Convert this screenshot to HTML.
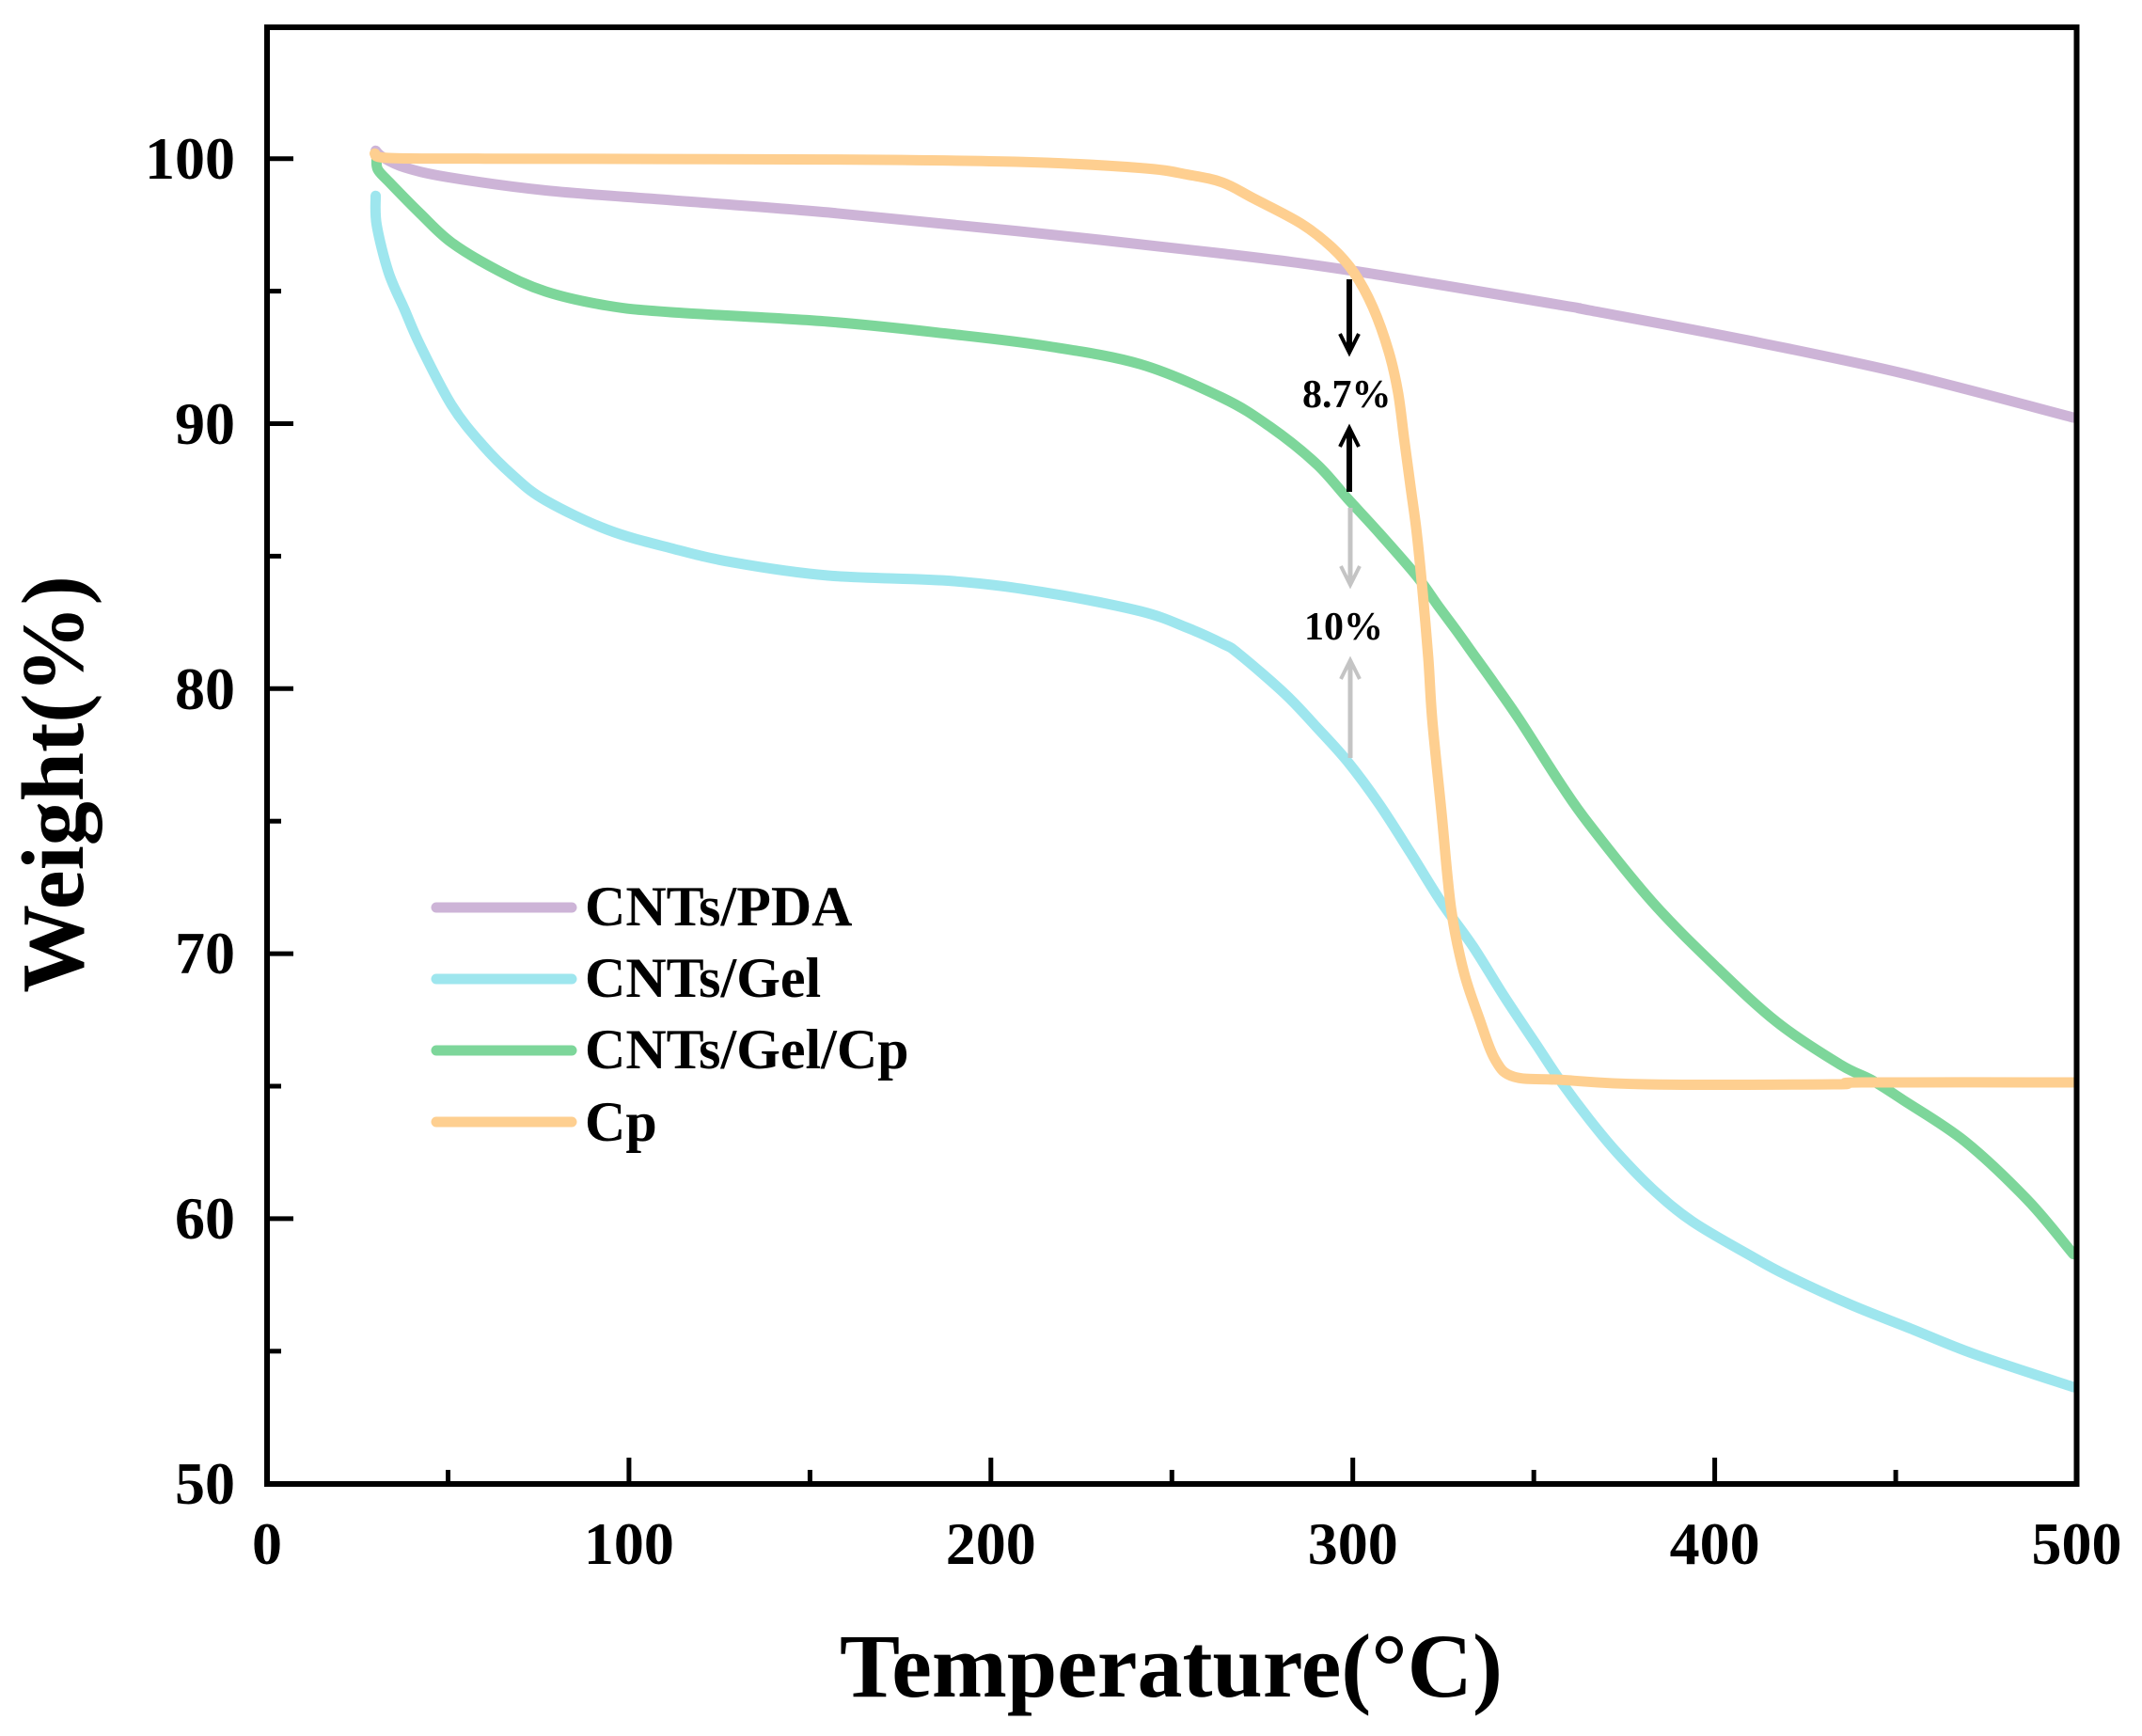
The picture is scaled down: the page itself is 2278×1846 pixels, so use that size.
<!DOCTYPE html>
<html>
<head>
<meta charset="utf-8">
<style>
html,body{margin:0;padding:0;background:#fff;}
svg{display:block;}
text{font-family:"Liberation Serif","Times New Roman",serif;font-weight:bold;fill:#000;}
</style>
</head>
<body>
<svg id="chart" width="2278" height="1846" viewBox="0 0 2278 1846" xmlns="http://www.w3.org/2000/svg">
<rect x="0" y="0" width="2278" height="1846" fill="#fff"/>

<!-- series -->
<g fill="none" stroke-width="11" stroke-linejoin="round" stroke-linecap="round">
<!-- CNTs/PDA -->
<polyline class="s" stroke="#cdb4d7" points="399.5,160.2 407.2,167.3 430.3,178 476.5,188.4 580.4,202.5 713.6,212.9 880.6,225.9 1080.7,245.6 1300.1,269.6 1438.7,287.9 1660.4,324.5 1690.4,330 1857.5,361.7 2023.7,397 2205,444"/>
<!-- CNTs/Gel -->
<polyline class="s" stroke="#9ee6ee" points="399.5,208.2 400.6,239.2 413.3,289.9 430.3,329.3 446.8,367.1 480.3,430.8 513,473 546.9,506.9 580.4,532.2 645.8,563.2 713.6,582.9 780.5,598.2 880.6,612 1013.4,617.9 1113.1,630.3 1213.1,650 1263.2,667.8 1300.1,684.4 1317.1,695 1366.7,738 1400,773 1433.3,810 1466.7,855 1500,906.7 1533.3,960 1566.7,1006.7 1600,1060 1633.3,1110 1660,1150 1690,1190 1720,1226 1757,1264 1800,1299 1863,1336 1900,1356 1966.7,1386.7 2033.3,1413.3 2100,1440 2205,1475"/>
<!-- CNTs/Gel/Cp -->
<polyline class="s" stroke="#7dd69a" points="400.5,168 401.7,180 413.3,193 446.8,227 480.3,258 530.3,288 580.4,310 645.8,325 713.6,332 880.6,342 1013.4,355.5 1113.1,368 1213.1,387.4 1300,423 1350,453.3 1400,493.3 1433,530 1466.7,566.7 1507,613 1530,645 1550,672 1570,700 1590,728 1617,767 1660,834 1690,876.4 1756.7,958.6 1823.3,1026.4 1890,1087.1 1956.7,1131.8 1990,1148.2 2023.3,1169.3 2090,1213.9 2156.7,1276.4 2205,1333.6"/>
<!-- Cp -->
<polyline class="s" stroke="#fecf90" points="398.5,163.3 413.3,168 515,168.7 880.6,169.6 1080.7,172 1213.1,178.6 1263.2,185.7 1300,194 1333.3,211 1383.3,237.5 1416.7,263.3 1440,290 1460,326.7 1476.7,373.3 1486.7,416.7 1493.3,466.7 1500,516.7 1506.7,566.7 1513.3,633.3 1519,700 1523.3,766.7 1533.3,866.7 1543.3,966.7 1556.7,1033.3 1573.3,1083.3 1590,1126.7 1610,1145 1660,1148.3 1750,1153 1950,1153 1980,1151 2205,1151"/>
</g>

<!-- axes frame -->
<rect x="284" y="29" width="1924.5" height="1549" fill="none" stroke="#000" stroke-width="6"/>

<!-- x ticks -->
<g stroke="#000" stroke-width="5">
<line x1="668.9" y1="1578" x2="668.9" y2="1550"/>
<line x1="1053.8" y1="1578" x2="1053.8" y2="1550"/>
<line x1="1438.7" y1="1578" x2="1438.7" y2="1550"/>
<line x1="1823.6" y1="1578" x2="1823.6" y2="1550"/>
<line x1="476.5" y1="1578" x2="476.5" y2="1563"/>
<line x1="861.4" y1="1578" x2="861.4" y2="1563"/>
<line x1="1246.3" y1="1578" x2="1246.3" y2="1563"/>
<line x1="1631.2" y1="1578" x2="1631.2" y2="1563"/>
<line x1="2016.1" y1="1578" x2="2016.1" y2="1563"/>
<!-- y ticks -->
<line x1="284" y1="168.7" x2="312" y2="168.7"/>
<line x1="284" y1="450.5" x2="312" y2="450.5"/>
<line x1="284" y1="732.3" x2="312" y2="732.3"/>
<line x1="284" y1="1014.1" x2="312" y2="1014.1"/>
<line x1="284" y1="1295.9" x2="312" y2="1295.9"/>
<line x1="284" y1="309.6" x2="299" y2="309.6"/>
<line x1="284" y1="591.4" x2="299" y2="591.4"/>
<line x1="284" y1="873.2" x2="299" y2="873.2"/>
<line x1="284" y1="1155" x2="299" y2="1155"/>
<line x1="284" y1="1436.8" x2="299" y2="1436.8"/>
</g>

<!-- y tick labels -->
<g font-size="64" text-anchor="end">
<text x="250" y="190">100</text>
<text x="250" y="472">90</text>
<text x="250" y="754">80</text>
<text x="250" y="1035">70</text>
<text x="250" y="1317">60</text>
<text x="250" y="1599">50</text>
</g>

<!-- x tick labels -->
<g font-size="64" text-anchor="middle">
<text x="284" y="1663">0</text>
<text x="668.9" y="1663">100</text>
<text x="1053.8" y="1663">200</text>
<text x="1438.7" y="1663">300</text>
<text x="1823.6" y="1663">400</text>
<text x="2208.5" y="1663">500</text>
</g>

<!-- axis titles -->
<text x="1245.5" y="1804" font-size="96" text-anchor="middle">Temperature(°C)</text>
<text transform="translate(88,834) rotate(-90)" font-size="94" text-anchor="middle">Weight(%)</text>

<!-- legend -->
<g stroke-width="11" stroke-linecap="round">
<line x1="464" y1="965" x2="608" y2="965" stroke="#cdb4d7"/>
<line x1="464" y1="1041" x2="608" y2="1041" stroke="#9ee6ee"/>
<line x1="464" y1="1117" x2="608" y2="1117" stroke="#7dd69a"/>
<line x1="464" y1="1193" x2="608" y2="1193" stroke="#fecf90"/>
</g>
<g font-size="60">
<text x="622" y="984">CNTs/PDA</text>
<text x="622" y="1060">CNTs/Gel</text>
<text x="622" y="1136">CNTs/Gel/Cp</text>
<text x="622" y="1213">Cp</text>
</g>

<!-- annotations -->
<g stroke="#000" fill="none">
<line x1="1435" y1="297" x2="1435" y2="372" stroke-width="6"/>
<polyline points="1425,355 1435,375 1445,355" stroke-width="4"/>
<line x1="1435" y1="458" x2="1435" y2="523" stroke-width="6"/>
<polyline points="1425,475 1435,455 1445,475" stroke-width="4"/>
</g>
<g stroke="#c4c4c4" fill="none">
<line x1="1436" y1="540" x2="1436" y2="619" stroke-width="5"/>
<polyline points="1426,602 1436,622 1446,602" stroke-width="4"/>
<line x1="1436" y1="705" x2="1436" y2="806" stroke-width="5"/>
<polyline points="1426,722 1436,702 1446,722" stroke-width="4"/>
</g>
<text x="1385" y="433" font-size="42">8.7%</text>
<text x="1387" y="680" font-size="42">10%</text>
</svg>
<script>
(function(){
  try{
    var NS="http://www.w3.org/2000/svg";
    var pls=document.querySelectorAll("polyline.s");
    for(var k=0;k<pls.length;k++){
      var pl=pls[k];
      var pts=pl.getAttribute("points").trim().split(/\s+/).map(function(p){return p.split(",").map(Number);});
      if(pts.length<3) continue;
      var d="M"+pts[0][0]+","+pts[0][1];
      for(var i=0;i<pts.length-1;i++){
        var p0=pts[i-1]||pts[i], p1=pts[i], p2=pts[i+1], p3=pts[i+2]||pts[i+1];
        var c1x=p1[0]+(p2[0]-p0[0])/6, c1y=p1[1]+(p2[1]-p0[1])/6;
        var c2x=p2[0]-(p3[0]-p1[0])/6, c2y=p2[1]-(p3[1]-p1[1])/6;
        d+=" C"+c1x.toFixed(1)+","+c1y.toFixed(1)+" "+c2x.toFixed(1)+","+c2y.toFixed(1)+" "+p2[0]+","+p2[1];
      }
      var path=document.createElementNS(NS,"path");
      path.setAttribute("d",d);
      path.setAttribute("stroke",pl.getAttribute("stroke"));
      path.setAttribute("fill","none");
      pl.parentNode.replaceChild(path,pl);
    }
  }catch(e){}
})();
</script>
</body>
</html>
